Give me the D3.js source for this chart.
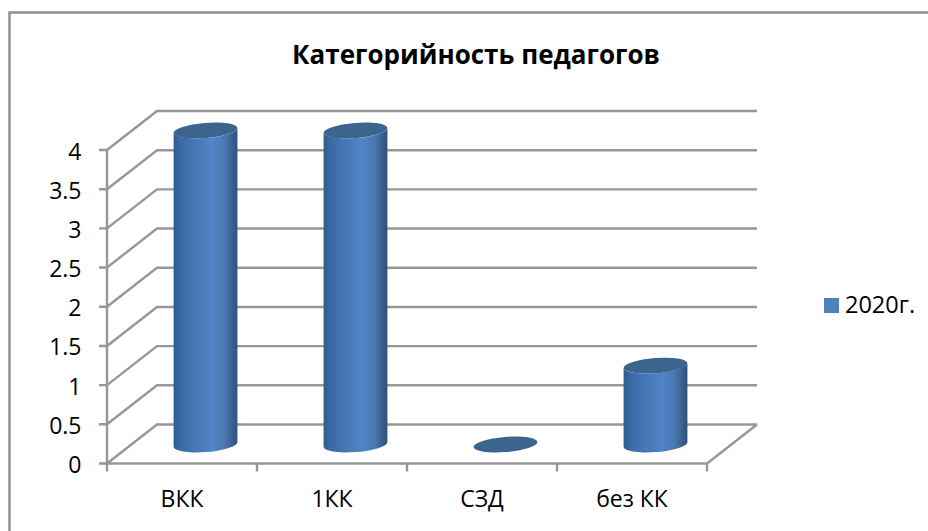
<!DOCTYPE html>
<html><head><meta charset="utf-8">
<script src="https://cdn.jsdelivr.net/npm/d3@7"></script>
<style>html,body{margin:0;padding:0;background:#fff}svg{display:block}text{font-family:"Open Sans","Noto Sans",sans-serif;fill:#000}</style>
</head><body><script>
const chartTitle = "Категорийность педагогов";
const categories = ["ВКК","1КК","СЗД","без КК"];
const values = [4,4,0,1];
const yTicks = [0,0.5,1,1.5,2,2.5,3,3.5,4];
const seriesName = "2020г.";

const W=928,H=531, dx=50, dy=-39;
const x=d3.scaleBand().domain(categories).range([107,707]);
const y=d3.scaleLinear().domain([0,4]).range([463.5,150]);
const svg=d3.select("body").append("svg").attr("width",W).attr("height",H);
const defs=svg.append("defs");
const g=defs.append("linearGradient").attr("id","cyl");
[[0,"#2f5c8f"],[.12,"#3b6ba6"],[.6,"#5285c8"],[.8,"#4a78b2"],[1,"#2f5079"]].forEach(s=>g.append("stop").attr("offset",s[0]).attr("stop-color",s[1]));

// chart frame
svg.append("path").attr("d",`M9.5,${H}V12.5H${W}`).attr("fill","none").attr("stroke","#909090").attr("stroke-width",2.5);

const grid=svg.append("g").attr("fill","none").attr("stroke","#979797").attr("stroke-width",2.4);
const x0=107,x1=707;
yTicks.forEach(t=>{
  grid.append("path").attr("d",`M${x0-8},${y(t)}H${x0}L${x0+dx},${y(t)+dy}H${x1+dx}`);
});
grid.append("path").attr("d",`M${x0},${y(4)}V${y(0)}H${x1}L${x1+dx},${y(0)+dy}`);
[...categories.map(c=>x(c)),x1].forEach(p=>grid.append("path").attr("d",`M${p},${y(0)}v8`));

// cylinders
const a=32,b=7.6,th=-4.5*Math.PI/180;
const hw=Math.sqrt(a*a*Math.cos(th)**2+b*b*Math.sin(th)**2);
const off=(a*a-b*b)*Math.sin(th)*Math.cos(th)/hw;
const deg=th*180/Math.PI;
const bars=svg.append("g");
categories.forEach((c,i)=>{
  const cx=x(c)+x.bandwidth()/2+23.5;
  const top=y(values[i])+dy/2, bot=y(0)+dy/2+0.5;
  if(values[i]>0){
    bars.append("path")
      .attr("d",`M${cx-hw},${top-off}V${bot-off}A${a},${b} ${deg} 0 0 ${cx+hw},${bot+off}V${top+off}A${a},${b} ${deg} 0 1 ${cx-hw},${top-off}Z`)
      .attr("fill","url(#cyl)");
  }
  bars.append("ellipse").attr("rx",a).attr("ry",b).attr("fill","#3b648f")
    .attr("transform",`translate(${cx},${top+(values[i]>0?0:0.5)}) rotate(${deg})`);
});

// axis labels
svg.append("g").selectAll("text").data(yTicks).join("text")
  .attr("x",81.5).attr("y",t=>y(t)+9.5).attr("text-anchor","end").attr("font-size",23).text(t=>t);
svg.append("g").selectAll("text").data(categories).join("text")
  .attr("x",c=>x(c)+x.bandwidth()/2).attr("y",507).attr("text-anchor","middle").attr("font-size",23).text(c=>c);

// title
svg.append("text").attr("x",476).attr("y",64).attr("text-anchor","middle").attr("font-size",26).attr("font-weight",700).text(chartTitle);

// legend
svg.append("rect").attr("x",824).attr("y",298).attr("width",15).attr("height",15).attr("fill","#4f81bd");
svg.append("text").attr("x",845).attr("y",313).attr("font-size",23.5).text(seriesName);
</script></body></html>
